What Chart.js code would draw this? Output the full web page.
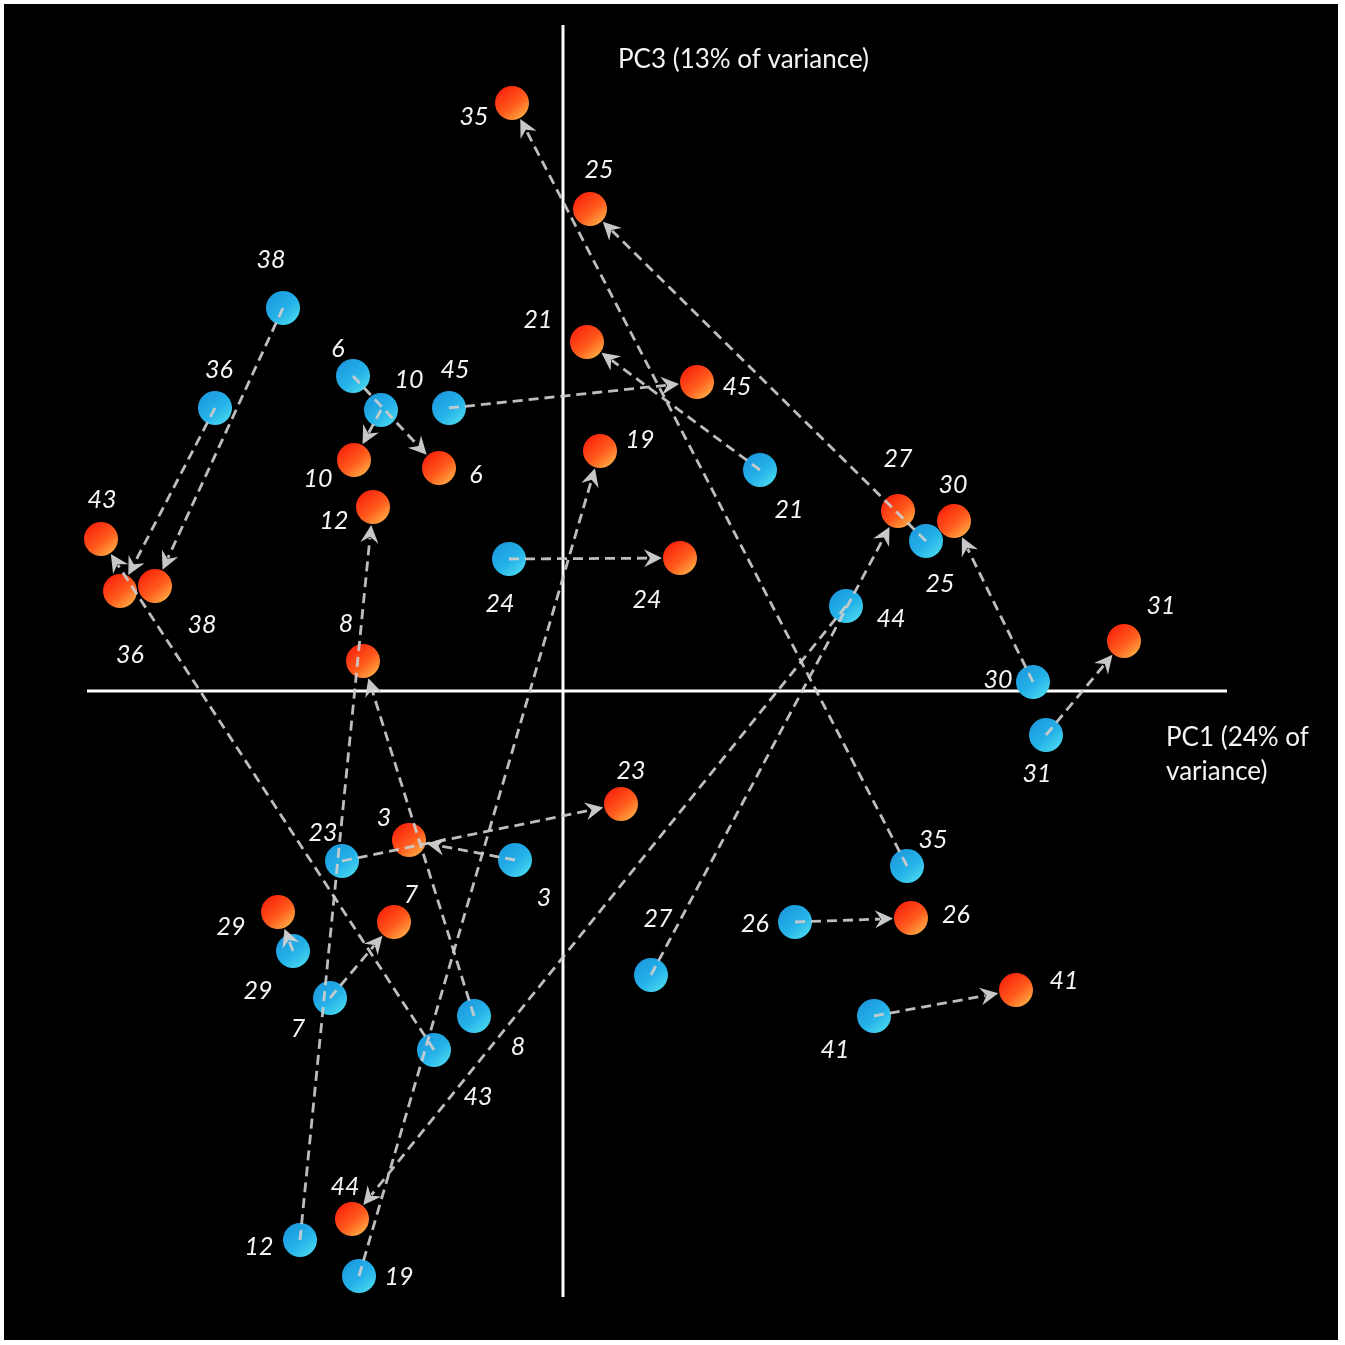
<!DOCTYPE html>
<html>
<head>
<meta charset="utf-8">
<script src="https://cdn.jsdelivr.net/npm/chart.js@4/dist/chart.umd.min.js"></script>
<style>
 body { margin: 0; background: #fff; }
 canvas { display: block; }
</style>
</head>
<body>
<canvas id="pca" width="1345" height="1345"></canvas>
<script>
// sample ids, same order in every array below
var ids = [3, 6, 7, 8, 10, 12, 19, 21, 23, 24, 25, 26, 27, 29, 30, 31, 35, 36, 38, 41, 43, 44, 45];

// PC1 / PC3 scores, first time point (blue)
var blueX = [-0.48, -2.10, -2.33, -0.89, -1.82, -2.63, -2.04, 1.97, -2.21, -0.54, 3.63, 2.32, 0.88, -2.70, 4.70, 4.83, 3.44, -3.48, -2.80, 3.11, -1.29, 2.83, -1.14];
var blueY = [-1.69, 3.15, -3.07, -3.25, 2.81, -5.49, -5.85, 2.21, -1.70, 1.32, 1.50, -2.31, -2.84, -2.60, 0.09, -0.44, -1.75, 2.83, 3.83, -3.25, -3.59, 0.85, 2.83];

// second time point (red)
var redX = [-1.54, -1.24, -1.69, -2.00, -2.09, -1.90, 0.37, 0.24, 0.58, 1.17, 0.27, 3.48, 3.35, -2.85, 3.91, 5.61, -0.51, -4.43, -4.08, 4.53, -4.62, -2.11, 1.34];
var redY = [-1.49, 2.23, -2.31, 0.30, 2.31, 1.84, 2.40, 3.49, -1.13, 1.33, 4.82, -2.27, 1.80, -2.21, 1.70, 0.50, 5.88, 1.00, 1.05, -2.99, 1.52, -5.28, 3.09];

var xTitle = ['PC1 (24% of', 'variance)'];
var yTitle = 'PC3 (13% of variance)';

// label placement (pixel offsets from the point), kept apart from the data
var blueLabelOff = [[29,38],[-15,-27],[-32,31],[44,31],[28,-30],[-41,7],[40,1],[29,40],[-19,-28],[-9,45],[14,43],[-40,2],[7,-56],[-35,40],[-35,-2],[-9,39],[26,-26],[4,-38],[-12,-48],[-39,34],[44,47],[45,13],[6,-38]];
var redLabelOff = [[-25,-22],[37,7],[17,-27],[-17,-37],[-36,19],[-39,14],[40,-11],[-49,-22],[10,-33],[-33,42],[9,-39],[45,-3],[0,-52],[-47,15],[-1,-36],[37,-35],[-38,14],[10,64],[47,39],[48,-9],[1,-39],[-7,-32],[40,5]];

var R = 17;

function ball(c1, c2, c3) {
 var cv = document.createElement('canvas');
 cv.width = 2 * R + 2;
 cv.height = 2 * R + 2;
 var g = cv.getContext('2d');
 var grad = g.createLinearGradient(R * 0.3, R * 0.2, R * 1.8, R * 2);
 grad.addColorStop(0, c1);
 grad.addColorStop(0.55, c2);
 grad.addColorStop(1, c3);
 g.fillStyle = grad;
 g.beginPath();
 g.arc(R + 1, R + 1, R, 0, Math.PI * 2);
 g.fill();
 return cv;
}
var blueBall = ball('#1b98de', '#25b2e8', '#4ddcf2');
var redBall = ball('#f8200c', '#ff5a1c', '#ffb448');

function pts(xs, ys) {
 return xs.map(function (x, i) { return { x: x, y: ys[i] }; });
}

var bgPlugin = {
 id: 'bg',
 beforeDraw: function (chart) {
  var c = chart.ctx;
  c.save();
  c.fillStyle = '#000';
  c.fillRect(4, 4, 1334, 1336);
  c.restore();
 }
};

var arrowPlugin = {
 id: 'arrows',
 afterDatasetsDraw: function (chart) {
  var c = chart.ctx, sx = chart.scales.x, sy = chart.scales.y;
  c.save();
  c.strokeStyle = 'rgba(205,205,205,0.92)';
  c.fillStyle = 'rgba(210,210,210,0.95)';
  c.lineWidth = 2.8;
  ids.forEach(function (id, i) {
   var x1 = sx.getPixelForValue(blueX[i]), y1 = sy.getPixelForValue(blueY[i]);
   var x2 = sx.getPixelForValue(redX[i]), y2 = sy.getPixelForValue(redY[i]);
   var dx = x2 - x1, dy = y2 - y1, len = Math.sqrt(dx * dx + dy * dy);
   var ux = dx / len, uy = dy / len;
   var tx = x2 - ux * (R + 1), ty = y2 - uy * (R + 1);
   var hl = 18, hw = 9;
   var bx = tx - ux * hl, by = ty - uy * hl;
   c.setLineDash([10, 6]);
   c.beginPath();
   c.moveTo(x1, y1);
   c.lineTo(bx + ux * 5, by + uy * 5);
   c.stroke();
   c.setLineDash([]);
   c.beginPath();
   c.moveTo(tx, ty);
   c.lineTo(bx - uy * hw, by + ux * hw);
   c.lineTo(bx + ux * 6, by + uy * 6);
   c.lineTo(bx + uy * hw, by - ux * hw);
   c.closePath();
   c.fill();
  });
  c.restore();
 }
};

var labelPlugin = {
 id: 'labels',
 afterDraw: function (chart) {
  var c = chart.ctx, sx = chart.scales.x, sy = chart.scales.y;
  c.save();
  c.fillStyle = '#f4f4f4';
  c.textAlign = 'center';
  c.textBaseline = 'middle';
  c.font = 'italic 25px Lato, "Open Sans", sans-serif';
  ids.forEach(function (id, i) {
   c.fillText(String(id), sx.getPixelForValue(blueX[i]) + blueLabelOff[i][0], sy.getPixelForValue(blueY[i]) + blueLabelOff[i][1]);
   c.fillText(String(id), sx.getPixelForValue(redX[i]) + redLabelOff[i][0], sy.getPixelForValue(redY[i]) + redLabelOff[i][1]);
  });
  // axis titles
  c.font = '26px Lato, "Open Sans", sans-serif';
  c.textAlign = 'left';
  var x0 = sx.getPixelForValue(0), y0 = sy.getPixelForValue(0);
  c.fillText(yTitle, x0 + 55, sy.getPixelForValue(6.66) + 35);
  c.fillText(xTitle[0], sx.getPixelForValue(6.64) - 61, y0 + 47);
  c.fillText(xTitle[1], sx.getPixelForValue(6.64) - 61, y0 + 81);
  c.restore();
 }
};

new Chart(document.getElementById('pca'), {
 type: 'scatter',
 data: {
  datasets: [
   {
    type: 'line',
    data: [{ x: -4.76, y: 0 }, { x: 6.64, y: 0 }],
    borderColor: '#ffffff',
    borderWidth: 3,
    pointRadius: 0,
    order: 3
   },
   {
    type: 'line',
    data: [{ x: 0, y: 6.66 }, { x: 0, y: -6.06 }],
    borderColor: '#ffffff',
    borderWidth: 3,
    pointRadius: 0,
    order: 3
   },
   {
    label: 'before',
    data: pts(blueX, blueY),
    pointStyle: blueBall,
    order: 1
   },
   {
    label: 'after',
    data: pts(redX, redY),
    pointStyle: redBall,
    order: 2
   }
  ]
 },
 options: {
  responsive: false,
  animation: false,
  layout: { padding: 0, autoPadding: false },
  plugins: { legend: { display: false }, tooltip: { enabled: false } },
  scales: {
   x: { type: 'linear', display: false, min: -5.63, max: 7.82 },
   y: { type: 'linear', display: false, min: -6.54, max: 6.91 }
  }
 },
 plugins: [bgPlugin, arrowPlugin, labelPlugin]
});
</script>
</body>
</html>
